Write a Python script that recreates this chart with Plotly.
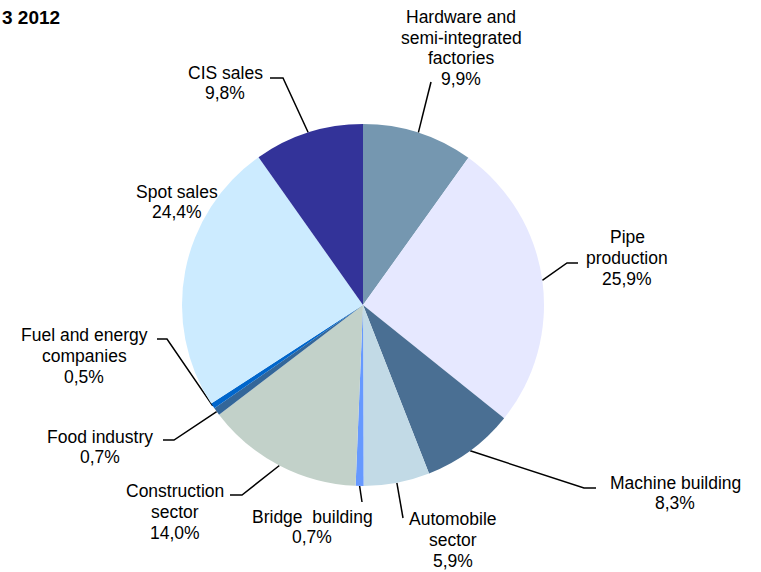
import math
import plotly.graph_objects as go

# Sales structure by consumer segment, shares in percent
segments = [
    "Hardware and<br>semi-integrated<br>factories",
    "Pipe<br>production",
    "Machine building",
    "Automobile<br>sector",
    "Bridge  building",
    "Construction<br>sector",
    "Food industry",
    "Fuel and energy<br>companies",
    "Spot sales",
    "CIS sales",
]
shares = [9.9, 25.9, 8.3, 5.9, 0.7, 14.0, 0.7, 0.5, 24.4, 9.8]
colors = ["#7597B0", "#E6E8FF", "#4A6F93", "#C2DAE6", "#6699FF",
          "#C2D1C9", "#336699", "#0066CC", "#CCEBFF", "#333399"]
title_text = "3 2012"

W, H = 761, 572
CX, CY, R = 363, 305, 181
LINE_STEP = 20.7
FONT = "Liberation Sans, Arial"

# Label block centres and leader-line elbows (pixel layout)
label_pos = [(461, 48), (627, 258), (675, 493), (453, 540), (312, 527),
             (175, 512), (100, 447), (84, 356), (177, 202), (225, 83)]
elbows = [
    [(431, 82)],
    [(567, 263), (578, 263)],
    [(584, 488), (596, 488)],
    [(403, 518)],
    [(362, 502)],
    [(242, 495), (230, 495)],
    [(174, 440), (163, 440)],
    [(167, 339), (157, 339)],
    None,
    [(283, 78), (270, 78)],
]

fig = go.Figure()
fig.add_trace(go.Pie(
    labels=[s.replace("<br>", " ") for s in segments],
    values=shares,
    sort=False,
    direction="clockwise",
    rotation=0,
    marker=dict(colors=colors, line=dict(width=0)),
    textinfo="none",
    hoverinfo="label+percent",
    showlegend=False,
    domain=dict(x=[(CX - R) / W, (CX + R) / W],
                y=[(H - CY - R) / H, (H - CY + R) / H]),
))

total = sum(shares)
cum = 0.0
for seg, val, pos, elb in zip(segments, shares, label_pos, elbows):
    mid = (cum + val / 2) / total * 2 * math.pi
    cum += val
    if elb is not None:
        ax = CX + R * math.sin(mid)
        ay = CY - R * math.cos(mid)
        xs = [ax] + [p[0] for p in elb]
        ys = [ay] + [p[1] for p in elb]
        fig.add_trace(go.Scatter(x=xs, y=ys, mode="lines",
                                 line=dict(color="black", width=1.5),
                                 hoverinfo="skip", showlegend=False))
    lines = seg.split("<br>") + [f"{val:.1f}%".replace(".", ",")]
    n = len(lines)
    for i, txt in enumerate(lines):
        fig.add_annotation(
            x=pos[0], y=pos[1] + (i - (n - 1) / 2) * LINE_STEP,
            xref="x", yref="y", text=txt,
            showarrow=False, xanchor="center", yanchor="middle",
            font=dict(family=FONT, size=17.5, color="#000000"),
        )

fig.add_annotation(
    x=0, y=17, xref="x", yref="y", text=f"<b>{title_text}</b>",
    showarrow=False, xanchor="left", yanchor="middle",
    font=dict(family=FONT, size=19, color="#000000"),
)

fig.update_layout(
    width=W, height=H,
    margin=dict(l=0, r=0, t=0, b=0),
    paper_bgcolor="white", plot_bgcolor="white",
    xaxis=dict(range=[0, W], visible=False, fixedrange=True),
    yaxis=dict(range=[H, 0], visible=False, fixedrange=True),
)

fig.write_html("out.html")
